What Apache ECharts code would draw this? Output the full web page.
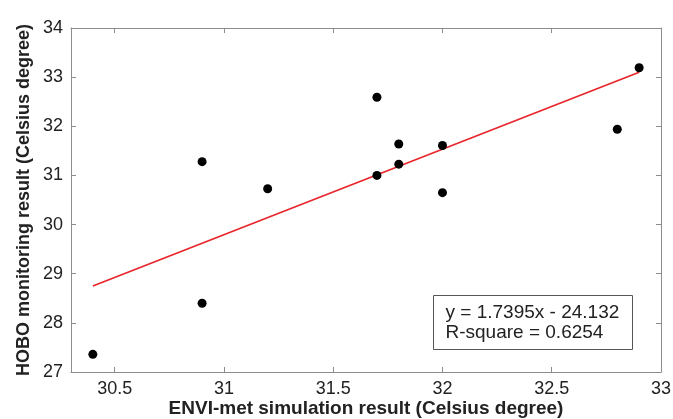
<!DOCTYPE html>
<html>
<head>
<meta charset="utf-8">
<script src="https://cdn.jsdelivr.net/npm/echarts@6/dist/echarts.min.js"></script>
<style>
html,body{margin:0;padding:0;background:#fff;}
#chart{width:673px;height:419px;}
</style>
</head>
<body>
<div id="chart"></div>
<script>
// Observed data (ENVI-met simulation vs HOBO monitoring)
var simX = [30.4, 30.9, 30.9, 31.2, 31.7, 31.7, 31.8, 31.8, 32.0, 32.0, 32.8, 32.9];
var hoboY = [27.36, 28.40, 31.28, 30.73, 32.59, 31.00, 31.64, 31.23, 31.61, 30.65, 31.94, 33.19];
// Fit line endpoints (y = 1.7395x - 24.132)
var fitX = [30.4, 32.9];
var fitY = [28.75, 33.10];
var xTicks = [30.5, 31, 31.5, 32, 32.5, 33];
var yTicks = [27, 28, 29, 30, 31, 32, 33, 34];
var xTitle = 'ENVI-met simulation result (Celsius degree)';
var yTitle = 'HOBO monitoring result (Celsius degree)';
var fitText = ['y = 1.7395x - 24.132', 'R-square = 0.6254'];

var FONT = '"Liberation Sans", Arial, Helvetica, sans-serif';
var axisColor = '#8c8c8c';

var scatterData = simX.map(function (x, i) { return [x, hoboY[i]]; });
var lineData = fitX.map(function (x, i) { return [x, fitY[i]]; });

var chart = echarts.init(document.getElementById('chart'), null, {renderer: 'canvas'});
var tickStyle = {show: true, inside: true, length: 5, lineStyle: {color: axisColor, width: 1}};
chart.setOption({
  animation: false,
  backgroundColor: '#fff',
  grid: {left: 71, top: 28, right: 12, bottom: 47, containLabel: false, outerBoundsMode: 'none'},
  xAxis: [{
    type: 'value', min: 30.3, max: 33, position: 'bottom',
    name: xTitle, nameLocation: 'middle', nameGap: 27, nameMoveOverlap: false,
    nameTextStyle: {fontFamily: FONT, fontWeight: 'bold', fontSize: 19, color: '#222'},
    axisLine: {show: true, lineStyle: {color: axisColor, width: 1}},
    axisTick: Object.assign({customValues: xTicks}, tickStyle),
    axisLabel: {customValues: xTicks, fontFamily: FONT, fontSize: 18, color: '#222', margin: 8,
      formatter: function (v) { return String(v); }},
    splitLine: {show: false}
  }, {
    type: 'value', min: 30.3, max: 33, position: 'top',
    axisLine: {show: true, lineStyle: {color: axisColor, width: 1}},
    axisTick: Object.assign({customValues: xTicks}, tickStyle),
    axisLabel: {show: false},
    splitLine: {show: false}
  }],
  yAxis: [{
    type: 'value', min: 27, max: 34, interval: 1, position: 'left',
    name: yTitle, nameLocation: 'middle', nameGap: 38, nameRotate: 90, nameMoveOverlap: false,
    nameTextStyle: {fontFamily: FONT, fontWeight: 'bold', fontSize: 18, color: '#222'},
    axisLine: {show: true, lineStyle: {color: axisColor, width: 1}},
    axisTick: Object.assign({customValues: yTicks}, tickStyle),
    axisLabel: {customValues: yTicks, fontFamily: FONT, fontSize: 18, color: '#222', margin: 8},
    splitLine: {show: false}
  }, {
    type: 'value', min: 27, max: 34, interval: 1, position: 'right',
    axisLine: {show: true, lineStyle: {color: axisColor, width: 1}},
    axisTick: Object.assign({customValues: yTicks}, tickStyle),
    axisLabel: {show: false},
    splitLine: {show: false}
  }],
  series: [{
    type: 'line', xAxisIndex: 0, yAxisIndex: 0,
    data: lineData, showSymbol: false, symbol: 'none',
    lineStyle: {color: '#e8262b', width: 1.8}, z: 2
  }, {
    type: 'scatter', xAxisIndex: 0, yAxisIndex: 0,
    data: scatterData, symbol: 'circle', symbolSize: 9,
    itemStyle: {color: '#000', opacity: 1}, z: 3
  }],
  graphic: [{
    type: 'group', left: 433, top: 295, z: 10,
    children: [{
      type: 'rect', shape: {x: 0, y: 0, width: 199, height: 54},
      style: {fill: '#fff', stroke: '#555', lineWidth: 1}
    }, {
      type: 'text', x: 12, y: 7,
      style: {text: fitText.join('\n'), fontFamily: FONT, fontSize: 19, lineHeight: 20, fill: '#222'}
    }]
  }]
});
</script>
</body>
</html>
